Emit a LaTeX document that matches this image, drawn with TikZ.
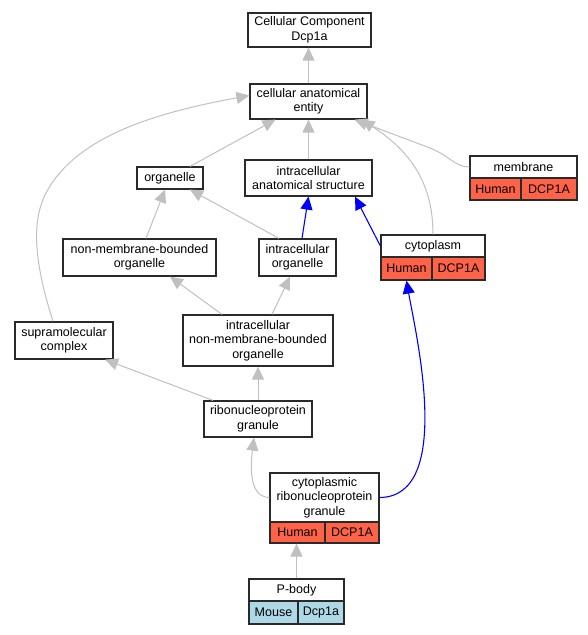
\documentclass[tikz,border=0pt]{standalone}
\usepackage{fontspec}
\setmainfont{Liberation Sans}
\usetikzlibrary{arrows.meta}
\definecolor{edgegray}{HTML}{C0C0C0}
\definecolor{human}{HTML}{FF6347}
\definecolor{mouse}{HTML}{ADD8E6}
\definecolor{boxline}{HTML}{2A2A2A}
\begin{document}
\begin{tikzpicture}[x=1pt,y=-1pt,
  box/.style={draw=boxline, line width=1.2pt, fill=white, align=center, inner sep=0pt,
    font=\fontsize{12.5}{14.5}\selectfont},
  hcell/.style={box, fill=human},
  mcell/.style={box, fill=mouse},
  ge/.style={draw=edgegray, line width=1pt, -{Triangle[length=13pt,width=12pt]}},
  be/.style={draw=blue, line width=1.1pt, -{Triangle[length=13pt,width=12pt]}}]
\useasboundingbox (0,0) rectangle (588,635);
% nodes
\node[box, minimum width=123, minimum height=34] (cc) at (309.5,30) {Cellular Component\\Dcp1a};
\node[box, minimum width=117, minimum height=35] (cae) at (308.5,101.5) {cellular anatomical\\entity};
\node[box, minimum width=66, minimum height=22] (org) at (170,178) {organelle};
\node[box, minimum width=127, minimum height=36] (ias) at (308.5,178) {intracellular\\anatomical structure};
\node[box, minimum width=107, minimum height=22] (mem) at (523.5,167) {membrane};
\node[hcell, minimum width=51, minimum height=22] (memH) at (495.5,189) {Human};
\node[hcell, minimum width=56, minimum height=22] (memD) at (549,189) {DCP1A};
\node[box, minimum width=153, minimum height=37] (nmbo) at (139.5,257.5) {non-membrane-bounded\\organelle};
\node[box, minimum width=77, minimum height=37] (io) at (297.5,257.5) {intracellular\\organelle};
\node[box, minimum width=104, minimum height=22] (cyt) at (433,246) {cytoplasm};
\node[hcell, minimum width=51, minimum height=23] (cytH) at (406.5,268.5) {Human};
\node[hcell, minimum width=53, minimum height=23] (cytD) at (458.5,268.5) {DCP1A};
\node[box, minimum width=98, minimum height=37] (smc) at (64,340.5) {supramolecular\\complex};
\node[box, minimum width=150, minimum height=51] (inmbo) at (258,340.5) {intracellular\\non-membrane-bounded\\organelle};
\node[box, minimum width=108, minimum height=36] (rg) at (258,419) {ribonucleoprotein\\granule};
\node[box, minimum width=109, minimum height=49] (crg) at (324.5,497.5) {cytoplasmic\\ribonucleoprotein\\granule};
\node[hcell, minimum width=55, minimum height=21] (crgH) at (297.5,532.5) {Human};
\node[hcell, minimum width=54, minimum height=21] (crgD) at (352,532.5) {DCP1A};
\node[box, minimum width=95, minimum height=22] (pb) at (296.5,590) {P-body};
\node[mcell, minimum width=49, minimum height=23] (pbM) at (273.5,612.5) {Mouse};
\node[mcell, minimum width=46, minimum height=23] (pbD) at (321,612.5) {Dcp1a};
% edges
\draw[ge] (cae.north) -- (cae.north |- cc.south);
\draw[ge] ([xshift=20pt]org.north) -- ([xshift=-33pt]cae.south);
\draw[ge] (ias.north) -- (cae.south);
\draw[ge] (mem.west) .. controls (455,167) and (450,156) .. (430,148) -- ([xshift=46pt]cae.south);
\draw[ge] (cyt.north) .. controls (433,185) and (412,152) .. ([xshift=53pt]cae.south);
\draw[ge] ([xshift=-11pt]smc.north) .. controls (40,280) and (28,230) .. (45,195)
  .. controls (75,135) and (160,112) .. ([yshift=6pt]cae.west);
\draw[ge] ([xshift=6.5pt]nmbo.north) -- ([xshift=-5pt]org.south);
\draw[ge] ([xshift=-18.5pt]io.north) -- ([xshift=20pt]org.south);
\draw[be] ([xshift=4.5pt]io.north) -- (ias.south);
\draw[be] (cyt.west) -- ([xshift=46.5pt]ias.south);
\draw[ge] ([xshift=-36pt]inmbo.north) -- ([xshift=30.5pt]nmbo.south);
\draw[ge] ([xshift=14pt]inmbo.north) -- ([xshift=-7.5pt]io.south);
\draw[ge] ([xshift=-45pt]rg.north) -- ([xshift=41pt]smc.south);
\draw[ge] (rg.north) -- (inmbo.south);
\draw[ge] (crg.west) .. controls (250,497) and (250,470) .. ([xshift=-4pt]rg.south);
\draw[be] (crg.east) .. controls (455,497) and (415,330) .. (cytH.south);
\draw[ge] (pb.north) -- (pb.north |- crgH.south);
\end{tikzpicture}
\end{document}
